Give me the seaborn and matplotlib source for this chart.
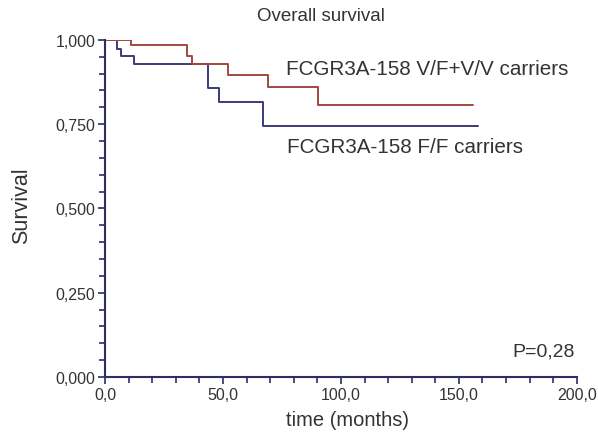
import numpy as np
import pandas as pd
import matplotlib
matplotlib.use("Agg")
import matplotlib.pyplot as plt
import seaborn as sns
from matplotlib.ticker import MultipleLocator

# Data
vf_time = [0, 10.9, 34.9, 36.7, 52.3, 69.2, 90.4, 155.8]
vf_surv = [1.0, 0.985, 0.953, 0.929, 0.897, 0.861, 0.808, 0.808]
ff_time = [0, 4.9, 6.6, 12.4, 43.8, 48.3, 66.8, 158.0]
ff_surv = [1.0, 0.973, 0.951, 0.929, 0.858, 0.815, 0.746, 0.746]

x_ticks = [0, 50, 100, 150, 200]
x_ticklabels = ["0,0", "50,0", "100,0", "150,0", "200,0"]
y_ticks = [0, 0.25, 0.5, 0.75, 1.0]
y_ticklabels = ["0,000", "0,250", "0,500", "0,750", "1,000"]

sns.set_theme(style="white")
plt.rcParams['font.family'] = ['Liberation Sans', 'DejaVu Sans']

fig = plt.figure(figsize=(5.98, 4.35), dpi=100)
ax = fig.add_axes([0.1756, 0.131, 0.789, 0.775])

axis_col = "#2e2e66"
red = "#a0483e"
blue = "#3a3a7a"
txt = "#333333"

df_vf = pd.DataFrame({"t": vf_time, "s": vf_surv})
df_ff = pd.DataFrame({"t": ff_time, "s": ff_surv})
sns.lineplot(data=df_ff, x="t", y="s", ax=ax, drawstyle="steps-post", color=blue, lw=1.4)
sns.lineplot(data=df_vf, x="t", y="s", ax=ax, drawstyle="steps-post", color=red, lw=1.4)

ax.set_xlim(0, 200)
ax.set_ylim(0, 1.0)
ax.set_xticks(x_ticks)
ax.set_xticklabels(x_ticklabels)
ax.set_yticks(y_ticks)
ax.set_yticklabels(y_ticklabels)
ax.xaxis.set_minor_locator(MultipleLocator(10))
ax.yaxis.set_minor_locator(MultipleLocator(0.05))
ax.tick_params(axis="both", which="major", direction="out", length=5, width=1.2,
               color=axis_col, labelsize=11.5, labelcolor=txt, bottom=True, left=True, pad=2)
ax.tick_params(axis="both", which="minor", direction="out", length=4, width=1.2,
               color=axis_col, bottom=True, left=True)
for s in ["top", "right"]:
    ax.spines[s].set_visible(False)
for s in ["left", "bottom"]:
    ax.spines[s].set_color(axis_col)
    ax.spines[s].set_linewidth(1.5)

ax.set_xlabel("time (months)", fontsize=14.5, color=txt)
ax.xaxis.set_label_coords(0.513, -0.097)
ax.set_ylabel("Survival", fontsize=15.5, color=txt)
ax.yaxis.set_label_coords(-0.155, 0.51)

fig.text(0.537, 0.961, "Overall survival", fontsize=13.5, color=txt, ha="center", va="center")
ax.text(76.7, 0.914, "FCGR3A-158 V/F+V/V carriers", fontsize=14.9, color=txt, va="center")
ax.text(77.2, 0.683, "FCGR3A-158 F/F carriers", fontsize=14.9, color=txt, va="center")
ax.text(199, 0.077, "P=0,28", fontsize=14, color=txt, ha="right", va="center")

fig.savefig("out.png", dpi=100)
